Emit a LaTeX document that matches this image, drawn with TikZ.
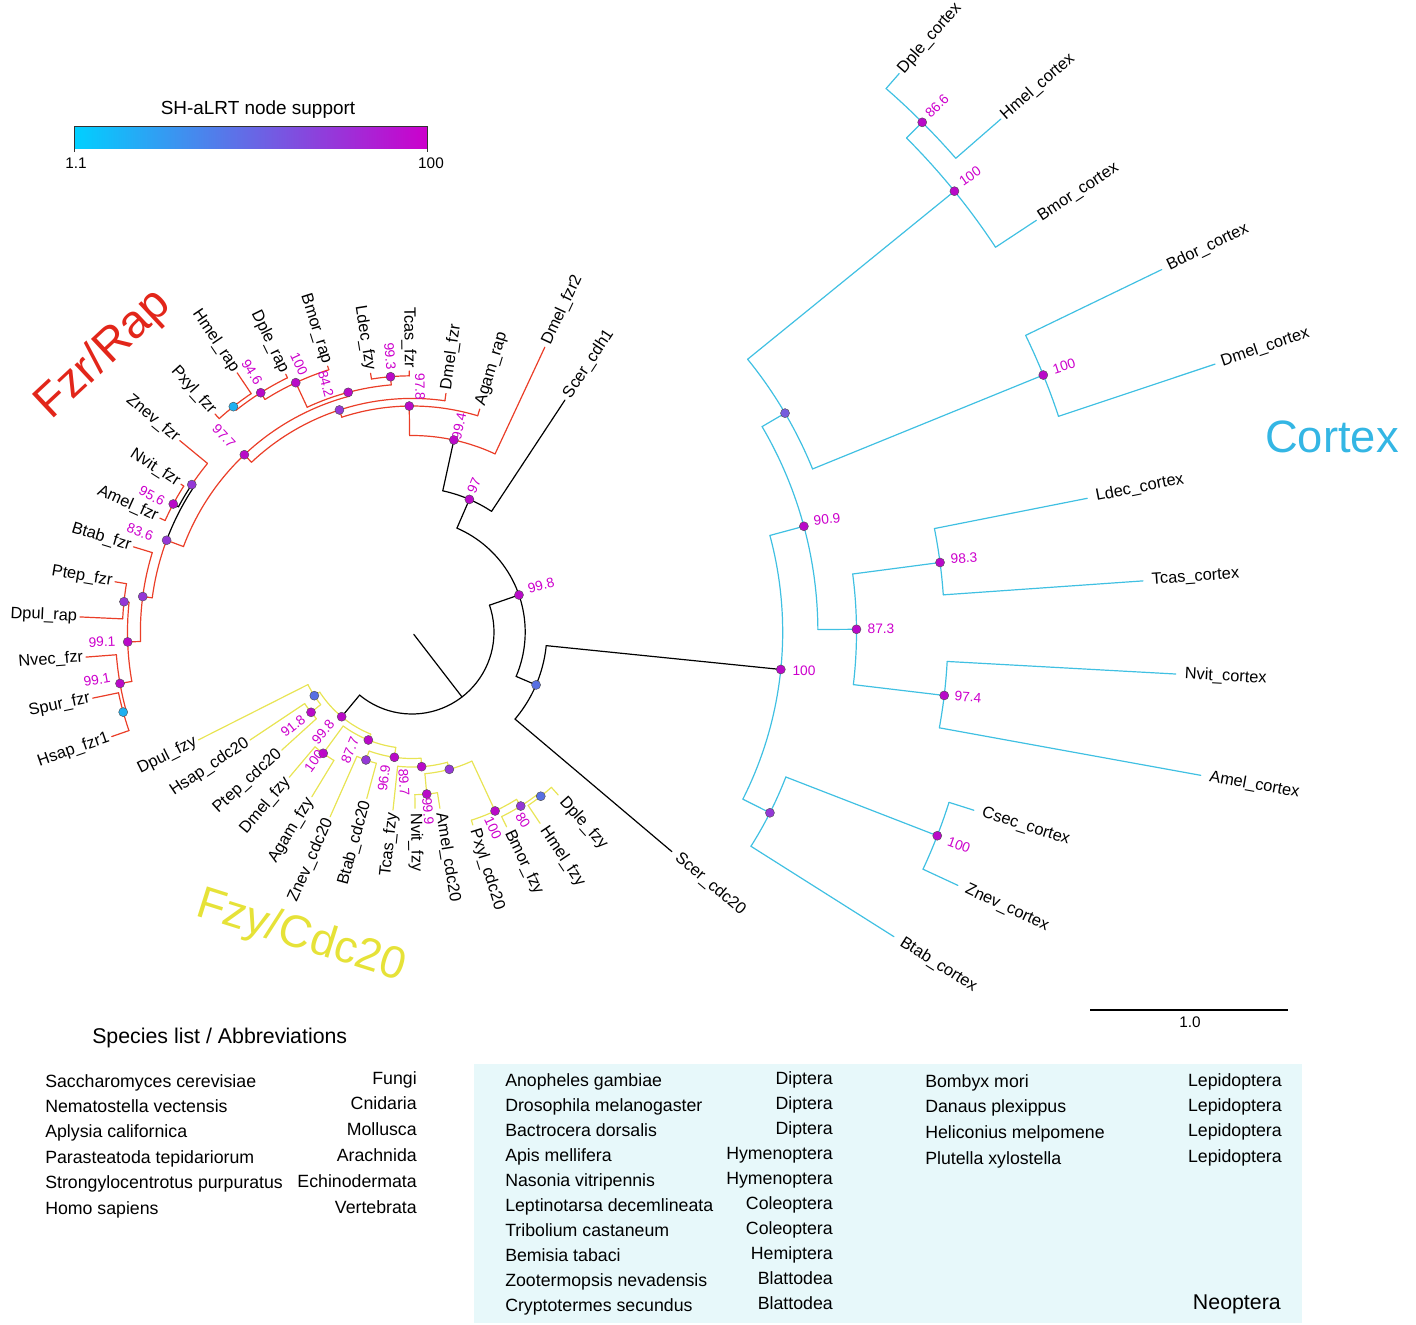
\documentclass[tikz,border=0pt]{standalone}
\usepackage{fontspec}
\setmainfont{Liberation Sans}
\usetikzlibrary{positioning}

\definecolor{fzrred}{RGB}{234,62,40}
\definecolor{fzyyel}{RGB}{232,228,84}
\definecolor{ctxcya}{RGB}{64,192,226}
\definecolor{fzrhead}{RGB}{226,38,26}
\definecolor{fzyhead}{RGB}{230,226,56}
\definecolor{ctxhead}{RGB}{52,182,228}
\definecolor{supmag}{RGB}{204,0,204}
\definecolor{dmag}{RGB}{185,10,200}
\definecolor{dpur}{RGB}{148,56,214}
\definecolor{dblu}{RGB}{88,112,226}
\definecolor{dbpu}{RGB}{118,92,222}
\definecolor{dcya}{RGB}{30,176,240}
\definecolor{lgcya}{RGB}{0,208,255}
\definecolor{lgmag}{RGB}{204,0,204}
\definecolor{neobox}{RGB}{231,248,250}

\newcommand{\tipfont}{\fontsize{12.3}{14}\selectfont}
\newcommand{\supfont}{\fontsize{10.3}{12}\selectfont}
\newcommand{\listfont}{\fontsize{13.3}{16}\selectfont}

% polar tree helpers: angle measured clockwise on the page, radius in px
\newcommand{\radbr}[4]{\draw[#1] (#2:#3) -- (#2:#4);}
\newcommand{\arcbr}[4]{\draw[#1] plot[domain=#2:#3,samples=40,variable=\angv] (\angv:#4);}
\newcommand{\leafR}[7][8]{\draw[#2] (#4:#5) -- (#4:#6);
  \node[tiplab,anchor=west,rotate={0-(#4)}] (#3) at (#4:#6+#1) {#7};}
\newcommand{\leafL}[6]{\draw[#1] (#3:#4) -- (#3:#5);
  \node[tiplab,anchor=east,rotate={180-(#3)}] (#2) at (#3:#5+2) {#6};}
\newcommand{\ndot}[4]{\node[supdot,fill=#4] (#1) at (#2:#3) {};}

\tikzset{
  br/.style={line width=0.9pt, line cap=round},
  blk/.style={br, draw=black},
  redbr/.style={br, draw=fzrred},
  yelbr/.style={br, draw=fzyyel},
  cyabr/.style={br, draw=ctxcya},
  supdot/.style={circle, draw=black!70, line width=0.3pt, inner sep=0pt, minimum size=6.8pt},
  tiplab/.style={font=\tipfont, inner sep=0.5pt},
  suplab/.style={font=\supfont, text=supmag, inner sep=0pt},
  listlab/.style={font=\listfont, inner sep=0pt},
}

\begin{document}
\begin{tikzpicture}[x=0.75pt,y=-0.75pt]
\useasboundingbox (0,0) rectangle (1416,1324);

% legend
\node[font=\fontsize{14.2}{16}\selectfont] (legtitle) at (258,110) {SH-aLRT node support};
\shade[left color=lgcya, right color=lgmag] (74,126) rectangle (427,148);
\draw[black!80, line width=0.6pt] (74,152) -- (74,126) -- (427,126) -- (427,152);
\node[font=\fontsize{11.5}{13}\selectfont] (leglo) at (76,163) {1.1};
\node[font=\fontsize{11.5}{13}\selectfont] (leghi) at (431,163) {100};

\begin{scope}[shift={(412,632)}]
% backbone
\radbr{blk}{52.4}{3}{82}
\arcbr{blk}{-19.1}{129.7}{82}
\radbr{blk}{-19.1}{82}{113.2}
\arcbr{blk}{-66.6}{23.1}{113.2}
\radbr{blk}{-66.6}{113.2}{144.5}
\arcbr{blk}{-77.7}{-56.6}{144.5}
\leafR[3]{blk}{tScerh}{-56.6}{144.5}{277.9}{Scer\_cdh1}
\radbr{blk}{23.1}{113.2}{134.9}
\arcbr{blk}{5.8}{40.2}{134.9}
\leafR[6]{blk}{tScerc}{40.2}{134.9}{340.2}{Scer\_cdc20}
\radbr{blk}{5.8}{134.9}{370.7}

% Fzr/Rap
\radbr{blk}{-77.7}{144.5}{196.5}
\arcbr{redbr}{-90.7}{-65}{196.5}
\leafR[3]{redbr}{tDmelf2}{-65}{196.5}{314.2}{Dmel\_fzr2}
\radbr{redbr}{-90.7}{196.5}{226}
\arcbr{redbr}{-108.1}{-73.1}{226}
\leafR[3]{redbr}{tAgamr}{-73.1}{226}{233}{Agam\_rap}
\radbr{redbr}{-108.1}{226}{233.6}
\arcbr{redbr}{-133.4}{-81.9}{233.6}
\leafR[3]{redbr}{tDmelf}{-81.9}{233.6}{241}{Dmel\_fzr}
\radbr{redbr}{-133.4}{233.6}{244}
\arcbr{redbr}{-159.5}{-104.9}{244}
\radbr{redbr}{-104.9}{244}{248}
\arcbr{redbr}{-115}{-94.8}{248}
\radbr{redbr}{-94.8}{248}{256.2}
\arcbr{redbr}{-99.1}{-90.6}{256.2}
\leafL{redbr}{tTcasf}{-90.6}{256.2}{261}{Tcas\_fzr}
\leafL{redbr}{tLdecf}{-99.1}{256.2}{262}{Ldec\_fzy}
\radbr{redbr}{-115}{248}{275.1}
\arcbr{redbr}{-122.3}{-107.6}{275.1}
\leafL{redbr}{tBmorr}{-107.6}{275.1}{279}{Bmor\_rap}
\radbr{redbr}{-122.3}{275.1}{283.1}
\arcbr{redbr}{-128.4}{-116.1}{283.1}
\leafL{redbr}{tDpler}{-116.1}{283.1}{287}{Dple\_rap}
\radbr{redbr}{-128.4}{283.1}{287.6}
\arcbr{redbr}{-132.1}{-124}{287.6}
\leafL{redbr}{tHmelr}{-124}{287.6}{312.6}{Hmel\_rap}
\leafL{redbr}{tPxylf}{-132.1}{287.6}{293.8}{Pxyl\_fzr}
\radbr{redbr}{-159.5}{244}{262}
\arcbr{redbr}{-172.5}{-159.5}{262}
\arcbr{blk}{-159.5}{-146.2}{262}
\radbr{blk}{-146.2}{262}{265}
\arcbr{blk}{-151.8}{-146.2}{265}
\arcbr{redbr}{-146.2}{-140.5}{265}
\leafL{redbr}{tZnevf}{-140.5}{265}{301}{Znev\_fzr}
\radbr{blk}{-151.8}{265}{270.9}
\arcbr{redbr}{-155.7}{-147.4}{270.9}
\leafL{redbr}{tNvitf}{-147.4}{270.9}{274.3}{Nvit\_fzr}
\leafL{redbr}{tAmelf}{-155.7}{270.9}{276.6}{Amel\_fzr}
\radbr{redbr}{-172.5}{262}{271.6}
\arcbr{redbr}{-182}{-163}{271.6}
\leafL{redbr}{tBtabf}{-163}{271.6}{291.3}{Btab\_fzr}
\radbr{redbr}{-182}{271.6}{284.5}
\arcbr{redbr}{-190}{-174}{284.5}
\radbr{redbr}{-174}{284.5}{289.6}
\arcbr{redbr}{-177.4}{-170.4}{289.6}
\leafL{redbr}{tPtepf}{-170.4}{289.6}{301.2}{Ptep\_fzr}
\leafL{redbr}{tDpulr}{-177.4}{289.6}{332.4}{Dpul\_rap}
\radbr{redbr}{-190}{284.5}{296.5}
\arcbr{redbr}{-195.5}{-184.4}{296.5}
\leafL{redbr}{tNvecf}{-184.4}{296.5}{327}{Nvec\_fzr}
\radbr{redbr}{-195.5}{296.5}{299.7}
\arcbr{redbr}{-199.2}{-191.7}{299.7}
\leafL{redbr}{tSpurf}{-191.7}{299.7}{326.1}{Spur\_fzr}
\leafL{redbr}{tHsapf}{-199.2}{299.7}{318}{Hsap\_fzr1}

% Fzy/Cdc20
\radbr{blk}{129.7}{82}{110.1}
\arcbr{yelbr}{112.0}{146.9}{110.1}
\radbr{yelbr}{146.9}{110.1}{116.6}
\arcbr{yelbr}{141.5}{153.2}{116.6}
\leafL{yelbr}{tDpuly}{153.2}{116.6}{239.4}{Dpul\_fzy}
\radbr{yelbr}{141.5}{116.6}{129}
\arcbr{yelbr}{137.8}{146.3}{129}
\leafL{yelbr}{tHsapc}{146.3}{129}{194.7}{Hsap\_cdc20}
\leafL{yelbr}{tPtepc}{137.8}{129}{175.8}{Ptep\_cdc20}
\radbr{yelbr}{112.0}{110.1}{116.5}
\arcbr{yelbr}{98.0}{126.2}{116.5}
\radbr{yelbr}{126.2}{116.5}{150.3}
\arcbr{yelbr}{121.3}{130.2}{150.3}
\leafL{yelbr}{tDmely}{130.2}{150.3}{190.2}{Dmel\_fzy}
\leafL{yelbr}{tAgamy}{121.3}{150.3}{192.8}{Agam\_fzy}
\radbr{yelbr}{98.0}{116.5}{126.5}
\arcbr{yelbr}{85.9}{109.8}{126.5}
\radbr{yelbr}{109.8}{126.5}{136}
\arcbr{yelbr}{105.2}{113.9}{136}
\leafL{yelbr}{tZnevc}{113.9}{136}{202.1}{Znev\_cdc20}
\leafL{yelbr}{tBtabc}{105.2}{136}{172.4}{Btab\_cdc20}
\radbr{yelbr}{85.9}{126.5}{135}
\arcbr{yelbr}{74.8}{96.1}{135}
\leafL{yelbr}{tTcasy}{96.1}{135}{179}{Tcas\_fzy}
\radbr{yelbr}{74.8}{135}{142.3}
\arcbr{yelbr}{65.1}{84.8}{142.3}
\radbr{yelbr}{84.8}{142.3}{162.7}
\arcbr{yelbr}{81}{89}{162.7}
\leafR[4]{yelbr}{tNvity}{89}{162.7}{176.3}{Nvit\_fzy}
\leafR[4]{yelbr}{tAmelc}{81}{162.7}{178.5}{Amel\_cdc20}
\radbr{yelbr}{65.1}{142.3}{197.3}
\arcbr{yelbr}{58.0}{72.5}{197.3}
\leafR[4]{yelbr}{tPxylc}{72.5}{197.3}{202.3}{Pxyl\_cdc20}
\radbr{yelbr}{58.0}{197.3}{205.2}
\arcbr{yelbr}{51.9}{64.1}{205.2}
\leafR[4]{yelbr}{tBmory}{64.1}{205.2}{216.5}{Bmor\_fzy}
\radbr{yelbr}{51.9}{205.2}{208.7}
\arcbr{yelbr}{48.1}{56.2}{208.7}
\leafR[5]{yelbr}{tHmely}{56.2}{208.7}{230.2}{Hmel\_fzy}
\leafR[5]{yelbr}{tDpley}{48.1}{208.7}{219}{Dple\_fzy}

% Cortex
\arcbr{cyabr}{-15.1}{26.8}{370.7}
\radbr{cyabr}{-15.1}{370.7}{405.9}
\arcbr{cyabr}{-30.4}{-0.35}{405.9}
\radbr{cyabr}{-0.35}{405.9}{444.5}
\arcbr{cyabr}{-7.5}{6.8}{444.5}
\radbr{cyabr}{-7.5}{444.5}{532.6}
\arcbr{cyabr}{-11.2}{-4.0}{532.6}
\leafR{cyabr}{tLdecc}{-11.2}{532.6}{688.4}{Ldec\_cortex}
\leafR{cyabr}{tTcasc}{-4.0}{532.6}{732.8}{Tcas\_cortex}
\radbr{cyabr}{6.8}{444.5}{536}
\arcbr{cyabr}{3.15}{10.3}{536}
\leafR{cyabr}{tNvitc}{3.15}{536}{765}{Nvit\_cortex}
\leafR{cyabr}{tAmelx}{10.3}{536}{801.7}{Amel\_cortex}
\radbr{cyabr}{-30.4}{405.9}{432.5}
\arcbr{cyabr}{-39.1}{-22.15}{432.5}
\radbr{cyabr}{-22.15}{432.5}{681.6}
\arcbr{cyabr}{-25.8}{-18.45}{681.6}
\leafR[6]{cyabr}{tBdorc}{-25.8}{681.6}{832.8}{Bdor\_cortex}
\leafR[6]{cyabr}{tDmelc}{-18.45}{681.6}{846.5}{Dmel\_cortex}
\radbr{cyabr}{-39.1}{432.5}{699}
\arcbr{cyabr}{-44.97}{-33.4}{699}
\leafR[3]{cyabr}{tBmorc}{-33.4}{699}{747.9}{Bmor\_cortex}
\radbr{cyabr}{-44.97}{699}{721.2}
\arcbr{cyabr}{-48.9}{-41.06}{721.2}
\leafR[2]{cyabr}{tDplec}{-48.9}{721.2}{741}{Dple\_cortex}
\leafR[2]{cyabr}{tHmelc}{-41.06}{721.2}{781}{Hmel\_cortex}
\radbr{cyabr}{26.8}{370.7}{401}
\arcbr{cyabr}{21.2}{32.3}{401}
\leafR{cyabr}{tBtabx}{32.3}{401}{570.2}{Btab\_cortex}
\radbr{cyabr}{21.2}{401}{563.4}
\arcbr{cyabr}{17.6}{24.9}{563.4}
\leafR{cyabr}{tCsecc}{17.6}{563.4}{589.5}{Csec\_cortex}
\leafR{cyabr}{tZnevx}{24.9}{563.4}{601.8}{Znev\_cortex}

% node support dots
\ndot{n998}{-19.1}{113.2}{dmag}
\ndot{n97}{-66.6}{144.5}{dmag}
\ndot{nbn}{23.1}{134.9}{dblu}
\ndot{n994}{-77.7}{196.5}{dmag}
\ndot{n978}{-90.7}{226}{dmag}
\ndot{np1}{-108.1}{233.6}{dpur}
\ndot{n977}{-133.4}{244}{dmag}
\ndot{nm1}{-104.9}{248}{dmag}
\ndot{n993}{-94.8}{256.2}{dmag}
\ndot{nlr}{-115}{275.1}{dmag}
\ndot{n946}{-122.3}{283.1}{dmag}
\ndot{nrb}{-128.4}{287.6}{dcya}
\ndot{n836}{-159.5}{262}{dpur}
\ndot{nnv}{-146.2}{265}{dpur}
\ndot{n956}{-151.8}{270.9}{dmag}
\ndot{np2}{-172.5}{271.6}{dpur}
\ndot{n991u}{-182}{284.5}{dmag}
\ndot{npd}{-174}{289.6}{dpur}
\ndot{n991l}{-190}{296.5}{dmag}
\ndot{ncy}{-195.5}{299.7}{dcya}
\ndot{n998y}{129.7}{110.1}{dmag}
\ndot{ny1}{146.9}{116.6}{dblu}
\ndot{n918}{141.5}{129}{dmag}
\ndot{n877}{112}{116.5}{dmag}
\ndot{n100y}{126.2}{150.3}{dmag}
\ndot{n969}{98}{126.5}{dmag}
\ndot{nyp}{109.8}{136}{dpur}
\ndot{n897}{85.9}{135}{dmag}
\ndot{nyq}{74.8}{142.3}{dpur}
\ndot{n999}{84.8}{162.7}{dmag}
\ndot{n100p}{65.1}{197.3}{dmag}
\ndot{n80}{58}{205.2}{dpur}
\ndot{nyb}{51.9}{208.7}{dblu}
\ndot{nc100}{5.8}{370.7}{dmag}
\ndot{n909}{-15.1}{405.9}{dmag}
\ndot{n873}{-0.35}{444.5}{dmag}
\ndot{n983}{-7.5}{532.6}{dmag}
\ndot{n974}{6.8}{536}{dmag}
\ndot{ncu}{-30.4}{432.5}{dbpu}
\ndot{nd100}{-22.15}{681.6}{dmag}
\ndot{nl100}{-39.1}{699}{dmag}
\ndot{n866}{-44.97}{721.2}{dmag}
\ndot{ncb}{26.8}{401}{dpur}
\ndot{ncc100}{21.2}{563.4}{dmag}
\end{scope}

% support values
\foreach \px/\py/\rot/\val [count=\k] in {
  937/106/45/86.6, 970/176/35/100, 1064/366/18/100, 827/519/6/90.9,
  964/558/3/98.3, 881/629/0/87.3, 804/671/0/100, 968/697/-4/97.4,
  959/845/-20/100, 541/585/15/99.8, 474/486/67/97,
  459/426/78/99.4, 420/387/-89/97.8, 390/356/-85/99.3, 326/384/-75/84.2,
  299/364/-65/100, 252/372/-58/94.6, 224/436/-47/97.7, 152/496/-28/95.6,
  140/532/-20/83.6, 102/642/2/99.1, 97/680/10/99.1,
  293/726/38/91.8, 323/732/50/99.8, 314/761/54/100, 350/750/68/87.7,
  384/778/82/96.9, 404/782/-86/89.7, 428/811/-85/99.9, 493/828/-65/100,
  523/820/-58/80}
  \node[suplab, rotate=\rot] (s\k) at (\px,\py) {\val};

% clade titles
\node[font=\fontsize{35}{40}\selectfont, text=fzrhead, rotate=43] (hfzr) at (104,355) {Fzr/Rap};
\node[font=\fontsize{34}{40}\selectfont, text=fzyhead, rotate=-17.5] (hfzy) at (301,937) {Fzy/Cdc20};
\node[font=\fontsize{34}{40}\selectfont, text=ctxhead] (hctx) at (1332,437) {Cortex};

% scale bar
\coordinate (sb1) at (1090,1010);
\coordinate (sb2) at (1288,1010);
\draw[line width=0.8pt] (sb1) -- (sb2);
\node[font=\fontsize{11.5}{13}\selectfont] (sblab) at (1190,1022) {1.0};

% species list
\node[font=\fontsize{16}{19}\selectfont, anchor=base west, inner sep=0pt] (sphead) at (92,1043) {Species list / Abbreviations};
\foreach \sp/\gr [count=\i] in {Saccharomyces cerevisiae/Fungi, Nematostella vectensis/Cnidaria,
  Aplysia californica/Mollusca, Parasteatoda tepidariorum/Arachnida,
  Strongylocentrotus purpuratus/Echinodermata, Homo sapiens/Vertebrata}{
  \node[listlab, anchor=base west] (sp\i) at (45,{1087+25.4*(\i-1)}) {\sp};
  \node[listlab, anchor=base east] (gr\i) at (417,{1084+25.9*(\i-1)}) {\gr};
}

\fill[neobox] (474,1064) rectangle (1302,1323);
\foreach \sp/\gr [count=\i] in {Anopheles gambiae/Diptera, Drosophila melanogaster/Diptera,
  Bactrocera dorsalis/Diptera, Apis mellifera/Hymenoptera, Nasonia vitripennis/Hymenoptera,
  Leptinotarsa decemlineata/Coleoptera, Tribolium castaneum/Coleoptera,
  Bemisia tabaci/Hemiptera, Zootermopsis nevadensis/Blattodea, Cryptotermes secundus/Blattodea}{
  \node[listlab, anchor=base west] (ns\i) at (505,{1086+25.1*(\i-1)}) {\sp};
  \node[listlab, anchor=base east] (no\i) at (833,{1084+25.1*(\i-1)}) {\gr};
}
\foreach \sp [count=\i] in {Bombyx mori, Danaus plexippus, Heliconius melpomene, Plutella xylostella}{
  \node[listlab, anchor=base west] (ls\i) at (925,{1087+25.7*(\i-1)}) {\sp};
  \node[listlab, anchor=base east] (lo\i) at (1282,{1086+25.4*(\i-1)}) {Lepidoptera};
}
\node[font=\fontsize{16}{19}\selectfont, anchor=base east, inner sep=0pt] (neo) at (1281,1309) {Neoptera};
\end{tikzpicture}
\end{document}
